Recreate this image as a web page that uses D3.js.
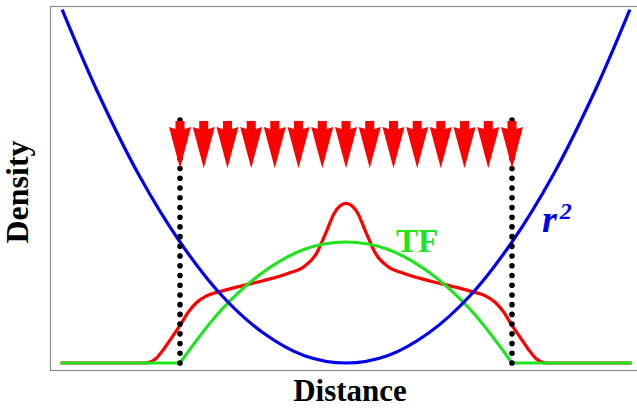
<!DOCTYPE html>
<html>
<head>
<meta charset="utf-8">
<script src="https://cdn.jsdelivr.net/npm/d3@7"></script>
<style>
  body { margin: 0; background: #fff; overflow: hidden; }
  svg text { font-family: "Liberation Serif", "Times New Roman", serif; font-weight: bold; }
</style>
</head>
<body>
<svg id="chart"></svg>
<script>
const width = 637;
const height = 408;

// r^2 trap potential
const blueX = [-1.71, -1.5, -1.25, -1, -0.75, -0.5, -0.25, 0, 0.25, 0.5, 0.75, 1, 1.25, 1.5, 1.71];
const blueY = [2.92, 2.25, 1.56, 1.0, 0.56, 0.25, 0.06, 0, 0.06, 0.25, 0.56, 1.0, 1.56, 2.25, 2.92];

// Thomas-Fermi profile
const greenX = [-1.72, -1, -0.75, -0.5, -0.25, 0, 0.25, 0.5, 0.75, 1, 1.72];
const greenY = [0, 0, 0.44, 0.75, 0.94, 1, 0.94, 0.75, 0.44, 0, 0];

// density profile
const redX = [-1.72, -1.2, -1.15, -1.1, -1.05, -1.0, -0.95, -0.9, -0.84, -0.76, -0.65, -0.5, -0.35, -0.25, -0.18, -0.12, -0.07, -0.035, 0,
  0.035, 0.07, 0.12, 0.18, 0.25, 0.35, 0.5, 0.65, 0.76, 0.84, 0.9, 0.95, 1.0, 1.05, 1.1, 1.15, 1.2, 1.72];
const redY = [0, 0, 0.03, 0.11, 0.21, 0.31, 0.42, 0.50, 0.555, 0.59, 0.63, 0.68, 0.74, 0.80, 0.90, 1.08, 1.24, 1.30, 1.32,
  1.30, 1.24, 1.08, 0.90, 0.80, 0.74, 0.68, 0.63, 0.59, 0.555, 0.50, 0.42, 0.31, 0.21, 0.11, 0.03, 0, 0];

// walls and arrows
const wallX = [-1, 1];
const wallTop = 2.0;
const arrowX = [-1, -0.857, -0.714, -0.571, -0.429, -0.286, -0.143, 0, 0.143, 0.286, 0.429, 0.571, 0.714, 0.857, 1];
const arrowTop = 2.0;
const arrowTip = 1.61;

const svg = d3.select("#chart")
  .attr("width", width)
  .attr("height", height);

const x = d3.scaleLinear().domain([-1.7831, 1.7530]).range([50, 637]);
const y = d3.scaleLinear().domain([-0.0579, 2.9504]).range([370, 6]);

// frame (right side runs off the picture)
svg.append("rect")
  .attr("x", x.range()[0] + 0.5)
  .attr("y", y.range()[1] + 0.5)
  .attr("width", 620)
  .attr("height", y.range()[0] - y.range()[1])
  .attr("fill", "none")
  .attr("stroke", "#8c8c8c")
  .attr("stroke-width", 1.2);

const line = d3.line()
  .x(d => x(d[0]))
  .y(d => y(d[1]));

const redPts = d3.zip(redX, redY);
svg.append("path")
  .attr("d", line.curve(d3.curveMonotoneX)(redPts))
  .attr("fill", "none")
  .attr("stroke", "#ff0000")
  .attr("stroke-width", 3.2);

// green: flat tails straight, arc smooth
const greenPts = d3.zip(greenX, greenY);
svg.append("path")
  .attr("d", line.curve(d3.curveLinear)(greenPts.slice(0, 2)) +
    line.curve(d3.curveCatmullRom)(greenPts.slice(1, greenPts.length - 1)) +
    line.curve(d3.curveLinear)(greenPts.slice(greenPts.length - 2)))
  .attr("fill", "none")
  .attr("stroke", "#1ee41e")
  .attr("stroke-width", 3.2);

const bluePts = d3.zip(blueX, blueY);
svg.append("path")
  .attr("d", line.curve(d3.curveCatmullRom)(bluePts))
  .attr("fill", "none")
  .attr("stroke", "#0000f0")
  .attr("stroke-width", 3.2);

// dotted walls
svg.selectAll(".wall")
  .data(wallX)
  .join("line")
  .attr("class", "wall")
  .attr("x1", d => x(d))
  .attr("x2", d => x(d))
  .attr("y1", y(0))
  .attr("y2", y(wallTop) - 2)
  .attr("stroke", "#000")
  .attr("stroke-width", 5.6)
  .attr("stroke-linecap", "round")
  .attr("stroke-dasharray", "0 9.72");

// arrows
const hw = 4.5, headW = 11, shaft = 8;
svg.selectAll(".arrow")
  .data(arrowX)
  .join("path")
  .attr("class", "arrow")
  .attr("fill", "#ff0000")
  .attr("d", d => {
    const cx = x(d), t = y(arrowTop), tip = y(arrowTip);
    return `M${cx - hw},${t}L${cx + hw},${t}L${cx + hw},${t + shaft}` +
      `L${cx + headW},${t + shaft - 2}L${cx},${tip}L${cx - headW},${t + shaft - 2}` +
      `L${cx - hw},${t + shaft}Z`;
  });

// labels
svg.append("text")
  .attr("x", 350)
  .attr("y", 401)
  .attr("text-anchor", "middle")
  .attr("font-size", 31)
  .text("Distance");

svg.append("text")
  .attr("transform", "translate(28,192) rotate(-90)")
  .attr("text-anchor", "middle")
  .attr("font-size", 32)
  .text("Density");

svg.append("text")
  .attr("x", 417)
  .attr("y", 252)
  .attr("text-anchor", "middle")
  .attr("font-size", 33)
  .attr("fill", "#1ee41e")
  .text("TF");

const r2 = svg.append("text")
  .attr("x", 542)
  .attr("y", 232)
  .attr("font-size", 38)
  .attr("font-style", "italic")
  .attr("fill", "#0000f0");
r2.append("tspan").text("r");
r2.append("tspan")
  .attr("font-size", 24)
  .attr("dx", 3)
  .attr("dy", -13)
  .text("2");
</script>
</body>
</html>
